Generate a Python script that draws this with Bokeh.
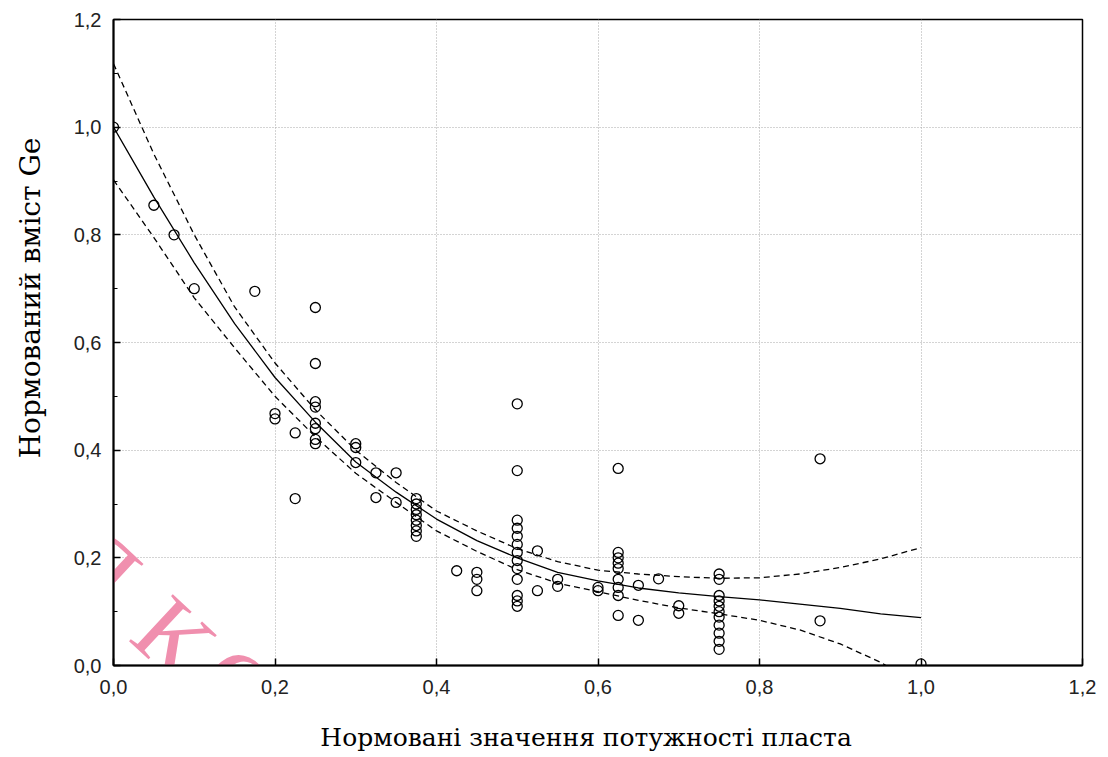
import math
from bokeh.plotting import figure
from bokeh.models import Range1d, FixedTicker, CustomJSTickFormatter, Label
from bokeh.embed import file_html
from bokeh.resources import INLINE

# ---- data ----
pt_x = [0.0, 0.05, 0.075, 0.1, 0.175,
        0.2, 0.2, 0.225, 0.225,
        0.25, 0.25, 0.25, 0.25, 0.25, 0.25, 0.25, 0.25,
        0.3, 0.3, 0.3, 0.325, 0.325, 0.35, 0.35,
        0.375, 0.375, 0.375, 0.375, 0.375, 0.375, 0.375, 0.375,
        0.425, 0.45, 0.45, 0.45,
        0.5, 0.5, 0.5, 0.5, 0.5, 0.5, 0.5, 0.5, 0.5, 0.5, 0.5, 0.5, 0.5,
        0.525, 0.525, 0.55, 0.55, 0.6, 0.6,
        0.625, 0.625, 0.625, 0.625, 0.625, 0.625, 0.625, 0.625, 0.625,
        0.65, 0.65, 0.675, 0.7, 0.7,
        0.75, 0.75, 0.75, 0.75, 0.75, 0.75, 0.75, 0.75, 0.75, 0.75, 0.75,
        0.875, 0.875, 1.0]
pt_y = [1.0, 0.855, 0.80, 0.70, 0.695,
        0.468, 0.458, 0.432, 0.31,
        0.665, 0.561, 0.49, 0.48, 0.45, 0.44, 0.42, 0.412,
        0.412, 0.405, 0.377, 0.358, 0.312, 0.358, 0.303,
        0.31, 0.30, 0.29, 0.28, 0.27, 0.26, 0.25, 0.24,
        0.176, 0.173, 0.16, 0.139,
        0.486, 0.362, 0.27, 0.255, 0.24, 0.225, 0.21, 0.195, 0.18, 0.16, 0.13, 0.12, 0.11,
        0.213, 0.139, 0.16, 0.147, 0.145, 0.139,
        0.366, 0.21, 0.20, 0.19, 0.18, 0.16, 0.145, 0.13, 0.093,
        0.149, 0.084, 0.161, 0.111, 0.097,
        0.17, 0.16, 0.13, 0.12, 0.11, 0.10, 0.09, 0.075, 0.06, 0.045, 0.03,
        0.384, 0.083, 0.003]

fit_x = [0.0, 0.05, 0.1, 0.15, 0.2, 0.25, 0.3, 0.35, 0.4, 0.45, 0.5,
         0.55, 0.6, 0.65, 0.7, 0.75, 0.8, 0.85, 0.9, 0.95, 1.0]
fit_y = [1.00, 0.87, 0.748, 0.635, 0.535, 0.452, 0.378, 0.322, 0.272, 0.232, 0.200,
         0.173, 0.157, 0.144, 0.135, 0.128, 0.122, 0.114, 0.106, 0.096, 0.089]
upper_y = [1.118, 0.95, 0.80, 0.666, 0.562, 0.475, 0.40, 0.34, 0.287, 0.25, 0.217,
           0.193, 0.177, 0.170, 0.165, 0.162, 0.163, 0.170, 0.182, 0.198, 0.219]
lower_y = [0.902, 0.795, 0.683, 0.59, 0.50, 0.425, 0.357, 0.303, 0.25, 0.212, 0.178,
           0.153, 0.137, 0.121, 0.107, 0.096, 0.084, 0.066, 0.040, 0.006, -0.04]

major_ticks = [0.0, 0.2, 0.4, 0.6, 0.8, 1.0, 1.2]
minor_ticks_y = [0.1, 0.3, 0.5, 0.7, 0.9, 1.1]

x_title = "Нормовані значення потужності пласта"
y_title = "Нормований вміст Ge"
watermark = ["Я", "К", "О"]

NBSP = "\u00a0"

# ---- figure ----
p = figure(width=1108, height=757, output_backend="svg", toolbar_location=None,
           x_range=Range1d(0, 1.2), y_range=Range1d(0, 1.2),
           min_border_left=113, min_border_right=26, min_border_top=19,
           min_border_bottom=92)
p.background_fill_color = "white"
p.border_fill_color = "white"
p.outline_line_color = "black"
p.outline_line_width = 1.5

fmt = CustomJSTickFormatter(code="return tick.toFixed(1).replace('.', ',');")
p.xaxis.ticker = FixedTicker(ticks=major_ticks)
p.yaxis.ticker = FixedTicker(ticks=major_ticks, minor_ticks=minor_ticks_y)
for ax in (p.xaxis[0], p.yaxis[0]):
    ax.formatter = fmt
    ax.axis_line_color = "black"
    ax.axis_line_width = 2
    ax.major_tick_in = 7
    ax.major_tick_out = 0
    ax.major_tick_line_color = "black"
    ax.major_tick_line_width = 1.5
    ax.major_label_text_font = "Liberation Sans"
    ax.major_label_text_font_size = "20px"
    ax.major_label_text_color = "#222222"
    ax.axis_label_text_font = "DejaVu Serif"
    ax.axis_label_text_font_style = "normal"
    ax.axis_label_text_color = "black"
p.xaxis.minor_tick_in = 0
p.xaxis.minor_tick_out = 0
p.yaxis.minor_tick_in = 4
p.yaxis.minor_tick_out = 0
p.yaxis.minor_tick_line_color = "black"
p.xaxis.major_label_standoff = 14
p.yaxis.major_label_standoff = 12
# non-breaking spaces only shift the titles off-centre, as in the reference
p.xaxis.axis_label = x_title + NBSP * 3
p.yaxis.axis_label = NBSP * 10 + y_title
p.xaxis.axis_label_text_font_size = "25px"
p.yaxis.axis_label_text_font_size = "28px"
p.xaxis.axis_label_standoff = 26
p.yaxis.axis_label_standoff = 24

for g in (p.xgrid[0], p.ygrid[0]):
    g.grid_line_color = "#a8a8a8"
    g.grid_line_dash = "1 2"
    g.grid_line_width = 1


def px2x(px):
    return (px - 113) / 807.5


def py2y(py):
    return (665 - py) / 538.3


# pink watermark (decoration): only the part inside the frame is visible
wm_pos = [(100, 566), (173, 637), (238, 688)]
for ch, (cx, cy) in zip(watermark, wm_pos):
    p.add_layout(Label(x=px2x(cx), y=py2y(cy), text=ch, angle=-0.75,
                       text_align="center", text_baseline="middle",
                       text_font="Liberation Serif", text_font_size="98px",
                       text_color="#f08fae", level="underlay"))

p.line(fit_x, fit_y, line_color="black", line_width=1.3)
p.line(fit_x, upper_y, line_color="black", line_width=1.3, line_dash="6 4")
p.line(fit_x, lower_y, line_color="black", line_width=1.3, line_dash="6 4")
p.scatter(pt_x, pt_y, marker="circle", size=10, fill_color=None,
          line_color="black", line_width=1.3)

open("out.html", "w").write(file_html(p, INLINE))
